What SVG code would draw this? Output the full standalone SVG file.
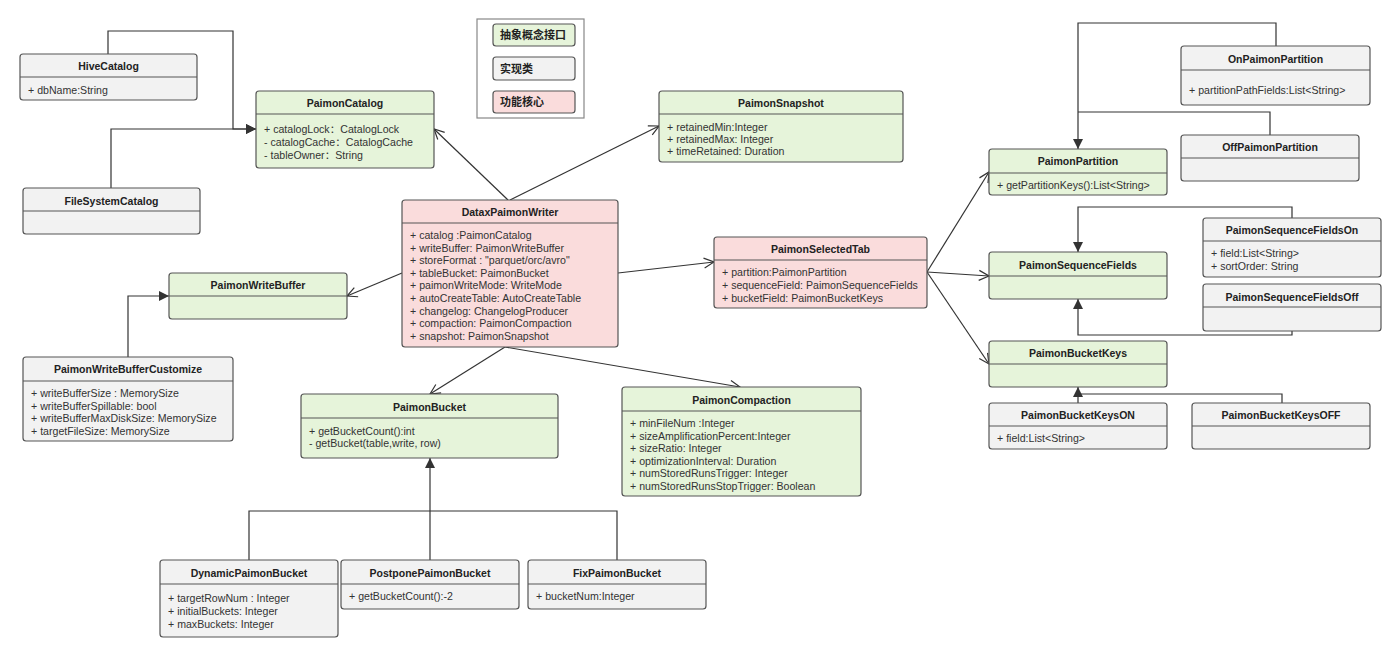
<svg xmlns="http://www.w3.org/2000/svg" width="1400" height="657" viewBox="0 0 1400 657">
<style>
.box{stroke:#555;stroke-width:1.2}
.g{fill:#e6f4da}.w{fill:#f2f2f2}.p{fill:#fadcdc}
.div{stroke:#555;stroke-width:1.2}
.t{font-family:"Liberation Sans","Noto Sans CJK SC",sans-serif;font-size:10.5px;font-weight:bold;fill:#222;text-anchor:middle}
.a{font-family:"Liberation Sans","Noto Sans CJK SC",sans-serif;font-size:10.6px;fill:#333}
.c{fill:none;stroke:#333;stroke-width:1.2}
.lg{font-family:"Noto Sans CJK SC",sans-serif;font-size:11px;font-weight:bold;fill:#222}
</style>
<defs>
<marker id="open" markerUnits="userSpaceOnUse" markerWidth="14" markerHeight="14" refX="11" refY="6" orient="auto"><path d="M1,1 L11,6 L1,11" fill="none" stroke="#333" stroke-width="1.2"/></marker>
<marker id="tri" markerUnits="userSpaceOnUse" markerWidth="14" markerHeight="14" refX="10" refY="5" orient="auto"><path d="M0,0 L10,5 L0,10 z" fill="#333"/></marker>
</defs>
<rect width="1400" height="657" fill="#fff"/>

<g id="connectors">
<polyline class="c" points="108,54 108,31 233,31 233,129 256,129" marker-end="url(#tri)"/>
<polyline class="c" points="111,188 111,129 256,129" marker-end="url(#tri)"/>
<polyline class="c" points="128,357 128,296 169,296" marker-end="url(#tri)"/>
<polyline class="c" points="249,560 249,511 617,511 617,560"/>
<polyline class="c" points="430,560 430,458" marker-end="url(#tri)"/>
<line class="c" x1="508" y1="200" x2="434" y2="129" marker-end="url(#open)"/>
<line class="c" x1="510" y1="200" x2="659" y2="126" marker-end="url(#open)"/>
<line class="c" x1="402" y1="273" x2="347" y2="296" marker-end="url(#open)"/>
<line class="c" x1="618" y1="273" x2="714" y2="262" marker-end="url(#open)"/>
<line class="c" x1="505" y1="347" x2="430" y2="394" marker-end="url(#open)"/>
<line class="c" x1="505" y1="347" x2="740" y2="387" marker-end="url(#open)"/>
<line class="c" x1="927" y1="272" x2="989" y2="172" marker-end="url(#open)"/>
<line class="c" x1="927" y1="272" x2="989" y2="276" marker-end="url(#open)"/>
<line class="c" x1="927" y1="272" x2="989" y2="364" marker-end="url(#open)"/>
<polyline class="c" points="1276,46 1276,23 1078,23 1078,149" marker-end="url(#tri)"/>
<polyline class="c" points="1270,135 1270,112 1078,112"/>
<polyline class="c" points="1292,218 1292,207 1078,207 1078,252" marker-end="url(#tri)"/>
<polyline class="c" points="1292,331 1292,335 1078,335 1078,299" marker-end="url(#tri)"/>
<polyline class="c" points="1078,403 1078,387" marker-end="url(#tri)"/>
<polyline class="c" points="1282,403 1282,394 1078,394"/>
</g>

<g id="legend">
<rect x="477" y="19" width="107" height="99" fill="#fff" stroke="#888" stroke-width="1.2"/>
<rect class="box g" x="493" y="24" width="82" height="22" rx="3"/>
<text class="lg" x="500" y="39">抽象概念接口</text>
<rect class="box w" x="493" y="57" width="82" height="23" rx="3"/>
<text class="lg" x="500" y="73">实现类</text>
<rect class="box p" x="493" y="91" width="82" height="22" rx="3"/>
<text class="lg" x="500" y="106">功能核心</text>
</g>

<g id="HiveCatalog">
<rect class="box w" x="20" y="54" width="177" height="46" rx="3"/>
<line class="div" x1="20" y1="77" x2="197" y2="77"/>
<text class="t" x="108.5" y="70">HiveCatalog</text>
<text class="a" x="28" y="94">+ dbName:String</text>
</g>

<g id="PaimonCatalog">
<rect class="box g" x="256" y="91" width="178" height="77" rx="3"/>
<line class="div" x1="256" y1="114" x2="434" y2="114"/>
<text class="t" x="345" y="107">PaimonCatalog</text>
<text class="a" x="264" y="133">+ catalogLock：CatalogLock</text>
<text class="a" x="264" y="146">- catalogCache：CatalogCache</text>
<text class="a" x="264" y="159">- tableOwner：String</text>
</g>

<g id="FileSystemCatalog">
<rect class="box w" x="23" y="188" width="177" height="46" rx="3"/>
<line class="div" x1="23" y1="211" x2="200" y2="211"/>
<text class="t" x="111.5" y="205">FileSystemCatalog</text>
</g>

<g id="PaimonSnapshot">
<rect class="box g" x="659" y="91" width="244" height="71" rx="3"/>
<line class="div" x1="659" y1="114" x2="903" y2="114"/>
<text class="t" x="781" y="107">PaimonSnapshot</text>
<text class="a" x="667" y="131">+ retainedMin:Integer</text>
<text class="a" x="667" y="143">+ retainedMax: Integer</text>
<text class="a" x="667" y="155">+ timeRetained: Duration</text>
</g>

<g id="DataxPaimonWriter">
<rect class="box p" x="402" y="200" width="216" height="147" rx="3"/>
<line class="div" x1="402" y1="223" x2="618" y2="223"/>
<text class="t" x="510" y="216">DataxPaimonWriter</text>
<text class="a" x="410" y="239">+ catalog :PaimonCatalog</text>
<text class="a" x="410" y="251.6">+ writeBuffer: PaimonWriteBuffer</text>
<text class="a" x="410" y="264.2">+ storeFormat : "parquet/orc/avro"</text>
<text class="a" x="410" y="276.8">+ tableBucket: PaimonBucket</text>
<text class="a" x="410" y="289.4">+ paimonWriteMode: WriteMode</text>
<text class="a" x="410" y="302">+ autoCreateTable: AutoCreateTable</text>
<text class="a" x="410" y="314.6">+ changelog: ChangelogProducer</text>
<text class="a" x="410" y="327.2">+ compaction: PaimonCompaction</text>
<text class="a" x="410" y="339.8">+ snapshot: PaimonSnapshot</text>
</g>

<g id="PaimonSelectedTab">
<rect class="box p" x="714" y="237" width="213" height="71" rx="3"/>
<line class="div" x1="714" y1="260" x2="927" y2="260"/>
<text class="t" x="820.5" y="253">PaimonSelectedTab</text>
<text class="a" x="722" y="276">+ partition:PaimonPartition</text>
<text class="a" x="722" y="289">+ sequenceField: PaimonSequenceFields</text>
<text class="a" x="722" y="302">+ bucketField: PaimonBucketKeys</text>
</g>

<g id="PaimonWriteBuffer">
<rect class="box g" x="169" y="273" width="178" height="46" rx="3"/>
<line class="div" x1="169" y1="296" x2="347" y2="296"/>
<text class="t" x="258" y="289">PaimonWriteBuffer</text>
</g>

<g id="PaimonWriteBufferCustomize">
<rect class="box w" x="23" y="357" width="210" height="84" rx="3"/>
<line class="div" x1="23" y1="381" x2="233" y2="381"/>
<text class="t" x="128" y="373">PaimonWriteBufferCustomize</text>
<text class="a" x="31" y="397">+ writeBufferSize : MemorySize</text>
<text class="a" x="31" y="409.5">+ writeBufferSpillable: bool</text>
<text class="a" x="31" y="422">+ writeBufferMaxDiskSize: MemorySize</text>
<text class="a" x="31" y="434.5">+ targetFileSize: MemorySize</text>
</g>

<g id="PaimonBucket">
<rect class="box g" x="301" y="394" width="257" height="64" rx="3"/>
<line class="div" x1="301" y1="418" x2="558" y2="418"/>
<text class="t" x="429.5" y="411">PaimonBucket</text>
<text class="a" x="309" y="435">+ getBucketCount():int</text>
<text class="a" x="309" y="447">- getBucket(table,write, row)</text>
</g>

<g id="PaimonCompaction">
<rect class="box g" x="622" y="387" width="239" height="109" rx="3"/>
<line class="div" x1="622" y1="411" x2="861" y2="411"/>
<text class="t" x="741.5" y="404">PaimonCompaction</text>
<text class="a" x="630" y="427">+ minFileNum :Integer</text>
<text class="a" x="630" y="439.6">+ sizeAmplificationPercent:Integer</text>
<text class="a" x="630" y="452.2">+ sizeRatio: Integer</text>
<text class="a" x="630" y="464.8">+ optimizationInterval: Duration</text>
<text class="a" x="630" y="477.4">+ numStoredRunsTrigger: Integer</text>
<text class="a" x="630" y="490">+ numStoredRunsStopTrigger: Boolean</text>
</g>

<g id="DynamicPaimonBucket">
<rect class="box w" x="160" y="560" width="178" height="77" rx="3"/>
<line class="div" x1="160" y1="584" x2="338" y2="584"/>
<text class="t" x="249" y="577">DynamicPaimonBucket</text>
<text class="a" x="168" y="602">+ targetRowNum : Integer</text>
<text class="a" x="168" y="615">+ initialBuckets: Integer</text>
<text class="a" x="168" y="628">+ maxBuckets: Integer</text>
</g>

<g id="PostponePaimonBucket">
<rect class="box w" x="341" y="560" width="178" height="49" rx="3"/>
<line class="div" x1="341" y1="584" x2="519" y2="584"/>
<text class="t" x="430" y="577">PostponePaimonBucket</text>
<text class="a" x="349" y="600">+ getBucketCount():-2</text>
</g>

<g id="FixPaimonBucket">
<rect class="box w" x="528" y="560" width="178" height="49" rx="3"/>
<line class="div" x1="528" y1="584" x2="706" y2="584"/>
<text class="t" x="617" y="577">FixPaimonBucket</text>
<text class="a" x="536" y="600">+ bucketNum:Integer</text>
</g>

<g id="OnPaimonPartition">
<rect class="box w" x="1181" y="46" width="189" height="59" rx="3"/>
<line class="div" x1="1181" y1="70" x2="1370" y2="70"/>
<text class="t" x="1275.5" y="63">OnPaimonPartition</text>
<text class="a" x="1189" y="94">+ partitionPathFields:List&lt;String&gt;</text>
</g>

<g id="OffPaimonPartition">
<rect class="box w" x="1181" y="135" width="178" height="46" rx="3"/>
<line class="div" x1="1181" y1="158" x2="1359" y2="158"/>
<text class="t" x="1270" y="151">OffPaimonPartition</text>
</g>

<g id="PaimonPartition">
<rect class="box g" x="989" y="149" width="178" height="46" rx="3"/>
<line class="div" x1="989" y1="173" x2="1167" y2="173"/>
<text class="t" x="1078" y="165">PaimonPartition</text>
<text class="a" x="997" y="189">+ getPartitionKeys():List&lt;String&gt;</text>
</g>

<g id="PaimonSequenceFields">
<rect class="box g" x="989" y="252" width="178" height="47" rx="3"/>
<line class="div" x1="989" y1="276" x2="1167" y2="276"/>
<text class="t" x="1078" y="269">PaimonSequenceFields</text>
</g>

<g id="PaimonSequenceFieldsOn">
<rect class="box w" x="1203" y="218" width="178" height="59" rx="3"/>
<line class="div" x1="1203" y1="241" x2="1381" y2="241"/>
<text class="t" x="1292" y="234">PaimonSequenceFieldsOn</text>
<text class="a" x="1211" y="257">+ field:List&lt;String&gt;</text>
<text class="a" x="1211" y="270">+ sortOrder: String</text>
</g>

<g id="PaimonSequenceFieldsOff">
<rect class="box w" x="1203" y="284" width="178" height="47" rx="3"/>
<line class="div" x1="1203" y1="307" x2="1381" y2="307"/>
<text class="t" x="1292" y="301">PaimonSequenceFieldsOff</text>
</g>

<g id="PaimonBucketKeys">
<rect class="box g" x="989" y="341" width="178" height="46" rx="3"/>
<line class="div" x1="989" y1="364" x2="1167" y2="364"/>
<text class="t" x="1078" y="357">PaimonBucketKeys</text>
</g>

<g id="PaimonBucketKeysON">
<rect class="box w" x="989" y="403" width="178" height="46" rx="3"/>
<line class="div" x1="989" y1="426" x2="1167" y2="426"/>
<text class="t" x="1078" y="419">PaimonBucketKeysON</text>
<text class="a" x="997" y="442">+ field:List&lt;String&gt;</text>
</g>

<g id="PaimonBucketKeysOFF">
<rect class="box w" x="1192" y="403" width="178" height="46" rx="3"/>
<line class="div" x1="1192" y1="426" x2="1370" y2="426"/>
<text class="t" x="1281" y="419">PaimonBucketKeysOFF</text>
</g>
</svg>
